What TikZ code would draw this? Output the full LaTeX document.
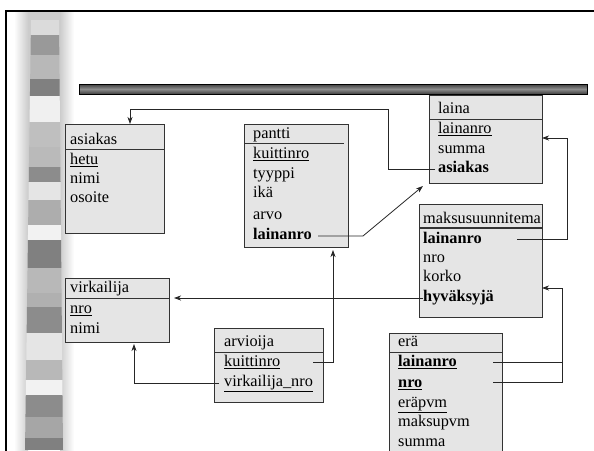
\documentclass[tikz,border=0pt]{standalone}
\usepackage{fontspec}
\setmainfont{Liberation Serif}
\usetikzlibrary{arrows.meta}

\begin{document}
\begin{tikzpicture}[x=1pt,y=-1pt,
  tbl/.style={draw=black!80, fill=black!10, line width=1pt, anchor=north west,
    inner sep=0pt, outer sep=0pt},
  hline/.style={draw=black!80, line width=1pt},
  rowtxt/.style={anchor=west, inner sep=0pt, text height=11pt, text depth=3.5pt,
    font=\fontsize{16.3}{20}\selectfont},
  link/.style={draw=black!85, line width=0.8pt},
  conn/.style={link, -{Stealth[length=7pt,width=5pt,inset=2pt]}}]

\useasboundingbox (0,0) rectangle (594,450);
\clip (0,0) rectangle (594,450);

% slide background strip: soft halo, then the banded column
\shade[left color=white, right color=black!20] (14,12) rectangle (28,450);
\fill[black!20] (28,12) rectangle (60,450);
\shade[left color=black!20, right color=white] (60,12) rectangle (74,450);
\begin{scope}
  \clip (31,20) -- (59,20) -- (63,450) -- (25,450) -- cycle;
  \fill[black!14] (0,20) rectangle (100,35);
  \fill[black!40] (0,35) rectangle (100,55);
  \fill[black!28] (0,55) rectangle (100,79);
  \fill[black!50] (0,79) rectangle (100,96);
  \fill[black!6]  (0,96) rectangle (100,122);
  \fill[black!25] (0,122) rectangle (100,147);
  \fill[black!27] (0,147) rectangle (100,167);
  \fill[black!45] (0,167) rectangle (100,182);
  \fill[black!10] (0,182) rectangle (100,200);
  \fill[black!32] (0,200) rectangle (100,225);
  \fill[black!5]  (0,225) rectangle (100,240);
  \fill[black!50] (0,240) rectangle (100,268);
  \fill[black!28] (0,268) rectangle (100,293);
  \fill[black!31] (0,293) rectangle (100,307);
  \fill[black!45] (0,307) rectangle (100,333);
  \fill[black!10] (0,333) rectangle (100,360);
  \fill[black!28] (0,360) rectangle (100,380);
  \fill[black!5]  (0,380) rectangle (100,395);
  \fill[black!45] (0,395) rectangle (100,417);
  \fill[black!35] (0,417) rectangle (100,438);
  \fill[black!50] (0,438) rectangle (100,450);
\end{scope}

% frame
\draw[line width=2pt] (6,452) -- (6,11) -- (596,11);

% title bar
\shade[top color=black!75, bottom color=black!75, middle color=black!45] (79,84) rectangle (587,94);
\draw[line width=0.8pt] (79,84) rectangle (587,94);

% tables
\node[tbl, minimum width=99pt, minimum height=109pt] (asiakas) at (65,124) {};
\draw[hline] (65,149) -- (164,149);
\node[rowtxt] (asiakas-t) at (70,141) {asiakas};
\node[rowtxt] (asiakas-hetu) at (70,161) {\underline{hetu}};
\node[rowtxt] (asiakas-nimi) at (70,180) {nimi};
\node[rowtxt] (asiakas-osoite) at (70,199) {osoite};

\node[tbl, minimum width=104pt, minimum height=123pt] (pantti) at (244,124) {};
\draw[hline] (244,143) -- (344,143);
\node[rowtxt] (pantti-t) at (253,135) {pantti};
\node[rowtxt] (pantti-kuittinro) at (253,155) {\underline{kuittinro}};
\node[rowtxt] (pantti-tyyppi) at (253,175) {tyyppi};
\node[rowtxt] (pantti-ika) at (253,194) {ikä};
\node[rowtxt] (pantti-arvo) at (253,216) {arvo};
\node[rowtxt] (pantti-lainanro) at (253,236) {\textbf{lainanro}};

\node[tbl, minimum width=113pt, minimum height=88pt] (laina) at (429,95) {};
\draw[hline] (429,119) -- (542,119);
\node[rowtxt] (laina-t) at (438,110) {laina};
\node[rowtxt] (laina-lainanro) at (438,130) {\underline{lainanro}};
\node[rowtxt] (laina-summa) at (438,150) {summa};
\node[rowtxt] (laina-asiakas) at (438,169) {\textbf{asiakas}};

\node[tbl, minimum width=123pt, minimum height=113pt] (maks) at (419,204) {};
\draw[hline, line width=1.8pt] (419,228) -- (542,228);
\node[rowtxt] (maks-t) at (423,220) {maksusuunnitema};
\node[rowtxt] (maks-lainanro) at (423,240) {\textbf{lainanro}};
\node[rowtxt] (maks-nro) at (423,259) {nro};
\node[rowtxt] (maks-korko) at (423,278) {korko};
\node[rowtxt] (maks-hyv) at (423,298) {\textbf{hyväksyjä}};

\node[tbl, minimum width=113pt, minimum height=130pt] (era) at (389,333) {};
\draw[hline] (389,352) -- (502,352);
\node[rowtxt] (era-t) at (398,343) {erä};
\node[rowtxt] (era-lainanro) at (398,363) {\underline{\textbf{lainanro}}};
\node[rowtxt] (era-nro) at (398,384) {\underline{\textbf{nro}}};
\node[rowtxt] (era-erapvm) at (398,404) {\underline{eräpvm}};
\node[rowtxt] (era-maksupvm) at (398,423) {maksupvm};
\node[rowtxt] (era-summa) at (398,443) {summa};

\node[tbl, minimum width=104pt, minimum height=64pt] (virk) at (65,278) {};
\draw[hline] (65,298) -- (169,298);
\node[rowtxt] (virk-t) at (70,289) {virkailija};
\node[rowtxt] (virk-nro) at (70,310) {\underline{nro}};
\node[rowtxt] (virk-nimi) at (70,330) {nimi};

\node[tbl, minimum width=109pt, minimum height=74pt] (arv) at (214,328) {};
\draw[hline] (214,352) -- (323,352);
\node[rowtxt] (arv-t) at (224,343) {arvioija};
\node[rowtxt] (arv-kuittinro) at (224,363) {\underline{kuittinro}};
\node[rowtxt] (arv-virk) at (224,383) {\underline{virkailija\_nro}};

% foreign keys
\coordinate (j1) at (388,109);
\coordinate (t1) at (130,109);
\draw[conn] ([xshift=-3pt]laina-asiakas.west) -| (j1) -- (t1) -- (t1 |- asiakas.north);

\coordinate (s2) at (318,236);
\coordinate (j2) at (363,236);
\draw[conn] (s2) -- (j2) -- ([shift={(-6,3)}]laina.south west);

\coordinate (s3) at (517,239);
\coordinate (j3) at (567,138);
\draw[conn] (s3) -| (j3) -- (j3 -| laina.east);

\coordinate (v4) at ([xshift=5pt]virk.east);
\draw[conn] (maks-hyv.west) -- (v4 |- maks-hyv.west);

\coordinate (s5) at (313,362);
\coordinate (j5) at (333,362);
\coordinate (p5) at ([yshift=-3pt]pantti.south);
\draw[conn] (s5) -- (j5) -- (j5 |- p5);

\coordinate (j6) at (134,383);
\coordinate (v6) at ([yshift=-2pt]virk.south);
\draw[conn] ([xshift=-5pt]arv-virk.west) -- (j6) -- (j6 |- v6);

\coordinate (s7) at (493,362);
\coordinate (s8) at (493,382);
\coordinate (j7) at (562,288);
\draw[conn] (s8) -| (j7) -- (j7 -| maks.east);
\draw[link] (s7) -- (s7 -| j7);

\end{tikzpicture}
\end{document}
